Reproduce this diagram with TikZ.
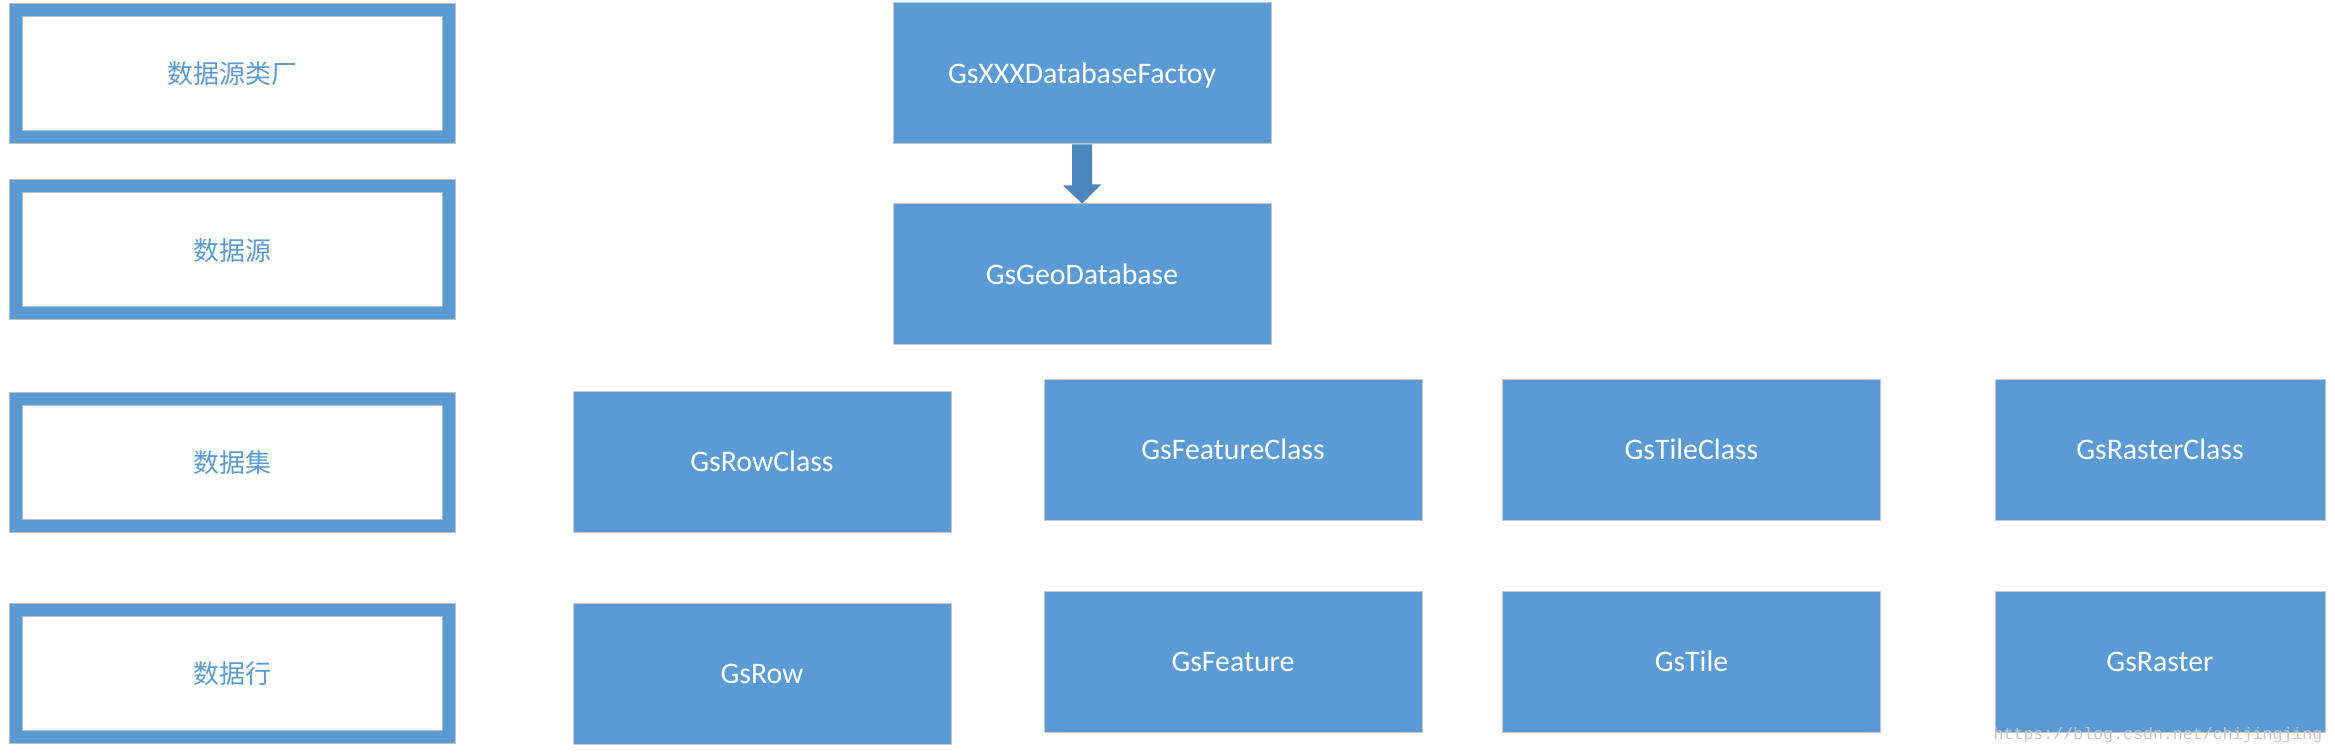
\documentclass[tikz,border=0pt]{standalone}
\usepackage{fontspec}
\setmainfont{Carlito}
\newfontfamily\cjk{Noto Sans CJK SC}
\newfontfamily\wmfont{Liberation Mono}
\definecolor{gsblue}{HTML}{5B9BD5}
\definecolor{arrowblue}{HTML}{4C86BE}
\tikzset{
    layerbox/.style={rectangle, fill=white, draw=black!25, line width=0.5pt,
            double=gsblue, double distance=6pt, minimum width=216.5pt, minimum height=63.5pt,
            inner sep=0pt, text=gsblue, font=\cjk\fontsize{13}{15}\selectfont,
            text height=10.2pt, text depth=0pt},
    classbox/.style={rectangle, fill=gsblue, draw=black!22, line width=0.5pt,
            minimum width=189pt, minimum height=70.5pt, inner sep=0pt, text=white,
            font=\fontsize{14.9}{18}\selectfont, text height=9.6pt, text depth=0pt},
    watermark/.style={inner sep=0pt, text=black!22, font=\wmfont\fontsize{8.3}{10}\selectfont}
}
\begin{document}
\begin{tikzpicture}[x=0.5pt, y=-0.5pt]
    \useasboundingbox (0,0) rectangle (2335,754);
    % layers on the left
    \foreach \y/\txt [count=\i] in {73.5/数据源类厂, 250/数据源, 462/数据集, 673.5/数据行} {
            \node[layerbox] (layer\i) at (232.5,\y) {\txt};
        }
    % classes
    \node[classbox] (factory) at (1082,73.5) {GsXXXDatabaseFactoy};
    \node[classbox] (geodb) at (1082,274.5) {GsGeoDatabase};
    \node[classbox] (rowclass) at (762,461.5) {GsRowClass};
    \node[classbox] (row) at (762,673.5) {GsRow};
    \foreach \x/\w/\name in {1233/189/Feature, 1691.5/189/Tile, 2160/165/Raster} {
            \node[classbox, minimum width=\w pt] (\name-class) at (\x,449.5) {Gs\name Class};
            \node[classbox, minimum width=\w pt] (\name) at (\x,661.5) {Gs\name};
        }
    \fill[arrowblue] ([xshift=-5pt]factory.south) -- ++(0,41) -- ++(-9,0) -- (geodb.north)
        -- ++(19,-19) -- ++(-9,0) -- ([xshift=5pt]factory.south) -- cycle;
    \node[watermark] (wm) at (2158,735) {https://blog.csdn.net/chijingjing};
\end{tikzpicture}
\end{document}
